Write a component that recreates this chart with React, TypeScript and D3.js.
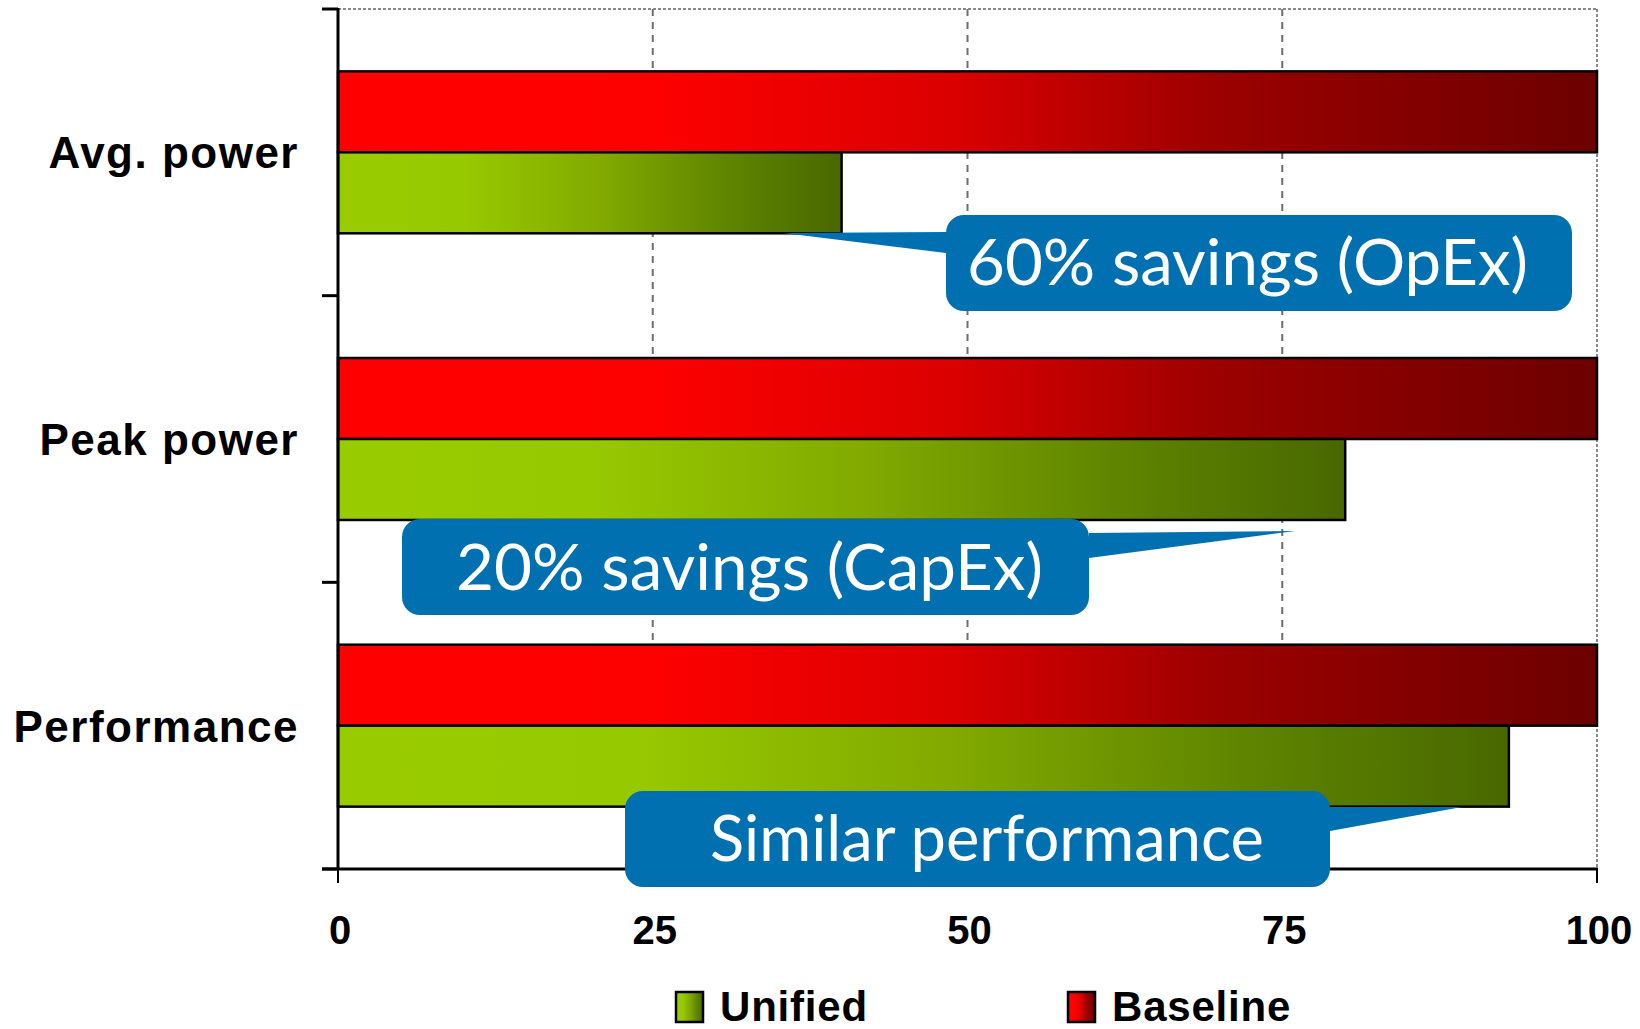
import React from "react";
import * as d3 from "d3";

const categories = ["Avg. power", "Peak power", "Performance"];
const unifiedValues = [40, 80, 93];
const baselineValues = [100, 100, 100];
const xTicks = [0, 25, 50, 75, 100];
const seriesNames = ["Baseline", "Unified"];
const legendNames = ["Unified", "Baseline"];
const calloutTexts = ["60% savings (OpEx)", "20% savings (CapEx)", "Similar performance"];

const W = 1640;
const H = 1029;
const X0 = 338;
const X1 = 1597;
const Y0 = 9;
const Y1 = 869;

// annotation layout (pixels)
const calloutLayout = [
  { x: 946, y: 215, w: 626, h: 96, side: "left", tip: [783, 233], b0: 232, b1: 253, tx: 967, tl: 561, base: 285 },
  { x: 402, y: 519, w: 687, h: 96, side: "right", tip: [1295, 531], b0: 533, b1: 558, tx: 456, tl: 587, base: 590 },
  { x: 625, y: 791, w: 705, h: 96, side: "right", tip: [1462, 807], b0: 807, b1: 831, tx: 710, tl: 554, base: 861 },
];

function calloutPath(c: any) {
  const r = 18;
  const { x, y, w, h } = c;
  const p = d3.path();
  p.moveTo(x + r, y);
  p.lineTo(x + w - r, y);
  p.arcTo(x + w, y, x + w, y + r, r);
  if (c.side === "right") {
    p.lineTo(x + w, c.b0);
    p.lineTo(c.tip[0], c.tip[1]);
    p.lineTo(x + w, c.b1);
  }
  p.lineTo(x + w, y + h - r);
  p.arcTo(x + w, y + h, x + w - r, y + h, r);
  p.lineTo(x + r, y + h);
  p.arcTo(x, y + h, x, y + h - r, r);
  if (c.side === "left") {
    p.lineTo(x, c.b1);
    p.lineTo(c.tip[0], c.tip[1]);
    p.lineTo(x, c.b0);
  }
  p.lineTo(x, y + r);
  p.arcTo(x, y, x + r, y, r);
  p.closePath();
  return p.toString();
}

export default function App() {
  const x = d3.scaleLinear().domain([0, 100]).range([X0, X1]);
  const y0 = d3.scaleBand<string>().domain(categories).range([Y0, Y1]).paddingInner(0).paddingOuter(0);
  const y1 = d3.scaleBand<string>().domain(seriesNames).range([0, y0.bandwidth()]).paddingInner(0).paddingOuter(0.77);
  const bandEdges = categories.map((c) => y0(c) as number).concat([Y1]);

  const rows = categories.map((c, i) => ({ cat: c, Baseline: baselineValues[i], Unified: unifiedValues[i] }));

  const labelFont = "'Liberation Sans', Arial, sans-serif";

  return (
    <svg
      width={W}
      height={H}
      viewBox={`0 0 ${W} ${H}`}
      style={{ position: "absolute", left: 0, top: 0, background: "#fff" }}
      fontFamily={labelFont}
    >
      <defs>
        <linearGradient id="gRed" x1="0" y1="0" x2="1" y2="0">
          <stop offset="0" stopColor="#ff0000" />
          <stop offset="0.25" stopColor="#fd0000" />
          <stop offset="0.48" stopColor="#dc0000" />
          <stop offset="0.7" stopColor="#9c0000" />
          <stop offset="1" stopColor="#6c0000" />
        </linearGradient>
        <linearGradient id="gGreen" x1="0" y1="0" x2="1" y2="0">
          <stop offset="0" stopColor="#99cc00" />
          <stop offset="0.25" stopColor="#97c900" />
          <stop offset="0.52" stopColor="#82aa00" />
          <stop offset="0.78" stopColor="#5e8400" />
          <stop offset="1" stopColor="#486800" />
        </linearGradient>
      </defs>

      {/* gridlines */}
      {xTicks.slice(1, -1).map((t) => (
        <line key={t} x1={x(t)} x2={x(t)} y1={Y0} y2={Y1} stroke="#6e6e6e" strokeWidth={2} strokeDasharray="7 6" />
      ))}
      <line x1={X0} x2={X1} y1={Y0} y2={Y0} stroke="#8a8a8a" strokeWidth={2} strokeDasharray="3 2" />
      <line x1={X1} x2={X1} y1={Y0} y2={Y1} stroke="#8a8a8a" strokeWidth={2} strokeDasharray="3 2" />

      {/* bars */}
      {rows.map((r) => (
        <g key={r.cat} transform={`translate(0,${y0(r.cat)})`}>
          {seriesNames.map((s) => (
            <rect
              key={s}
              x={x(0)}
              y={y1(s)}
              width={x((r as any)[s]) - x(0)}
              height={y1.bandwidth()}
              fill={s === "Baseline" ? "url(#gRed)" : "url(#gGreen)"}
              stroke="#000"
              strokeWidth={2.5}
            />
          ))}
        </g>
      ))}

      {/* axes */}
      <line x1={X0} x2={X0} y1={Y0 - 1} y2={Y1 + 1} stroke="#000" strokeWidth={3} />
      {bandEdges.map((e, i) => (
        <line key={i} x1={322} x2={X0} y1={e} y2={e} stroke="#000" strokeWidth={3} />
      ))}
      <line x1={322} x2={X1 + 1} y1={Y1} y2={Y1} stroke="#000" strokeWidth={3} />
      {xTicks.map((t) => (
        <line key={t} x1={x(t)} x2={x(t)} y1={Y1} y2={883} stroke="#000" strokeWidth={2} />
      ))}

      {/* tick labels */}
      {xTicks.map((t) => (
        <text key={t} x={x(t) + 2} y={944} textAnchor="middle" fontSize={40} fontWeight="bold" fill="#000">
          {t}
        </text>
      ))}

      {/* category labels */}
      {categories.map((c) => (
        <text
          key={c}
          x={299}
          y={(y0(c) as number) + y0.bandwidth() / 2 + 16}
          textAnchor="end"
          fontSize={44}
          fontWeight="bold"
          letterSpacing={1.5}
          fill="#000"
        >
          {c}
        </text>
      ))}

      {/* legend */}
      {legendNames.map((n, i) => {
        const sx = i === 0 ? 676 : 1068;
        return (
          <g key={n}>
            <rect x={sx} y={992} width={27} height={30} fill={n === "Baseline" ? "url(#gRed)" : "url(#gGreen)"} stroke="#000" strokeWidth={2.5} />
            <text x={sx + 44} y={1021} fontSize={42} fontWeight="bold" letterSpacing={0.8} fill="#000">
              {n}
            </text>
          </g>
        );
      })}

      {/* callouts */}
      {calloutLayout.map((c, i) => (
        <g key={i}>
          <path d={calloutPath(c)} fill="#0070b0" />
          <text
            x={c.tx}
            y={c.base}
            fontFamily="Lato, 'Open Sans', sans-serif"
            fontWeight={400}
            fontSize={64}
            fill="#fff"
            textLength={c.tl}
            lengthAdjust="spacingAndGlyphs"
          >
            {calloutTexts[i]}
          </text>
        </g>
      ))}
    </svg>
  );
}
